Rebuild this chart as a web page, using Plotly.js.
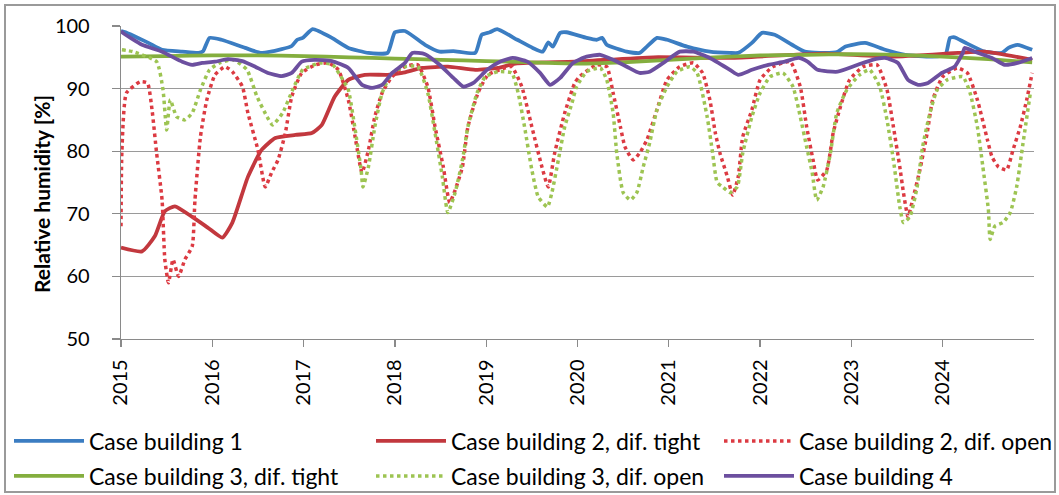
<!DOCTYPE html>
<html><head><meta charset="utf-8">
<script src="https://cdn.plot.ly/plotly-3.0.1.min.js"></script>
<style>html,body{margin:0;padding:0;background:#fff;} #chart{width:1059px;height:495px;}</style>
</head><body><div id="chart"></div>
<script>
const yearTicks = [2015, 2016, 2017, 2018, 2019, 2020, 2021, 2022, 2023, 2024];
const yearLabels = ['2015', '2016', '2017', '2018', '2019', '2020', '2021', '2022', '2023', '2024'];
const seriesNames = ['Case building 1', 'Case building 2, dif. tight', 'Case building 2, dif. open',
  'Case building 3, dif. tight', 'Case building 3, dif. open', 'Case building 4'];
const yTitle = 'Relative humidity [%]';

// [decimal year, relative humidity %]
const building1 = [[2015.00,99.2],[2015.05,99.0],[2015.30,97.3],[2015.45,96.2],[2015.67,95.9],[2015.85,95.7],[2015.90,96.0],[2015.97,98.1],[2016.10,97.8],[2016.36,96.5],[2016.54,95.7],[2016.76,96.3],[2016.87,96.8],[2016.93,97.8],[2016.99,98.1],[2017.10,99.5],[2017.31,98.1],[2017.49,96.5],[2017.71,95.7],[2017.92,95.7],[2018.00,99.0],[2018.11,99.2],[2018.33,97.0],[2018.49,95.9],[2018.64,96.0],[2018.88,95.7],[2018.95,98.6],[2019.04,99.0],[2019.12,99.5],[2019.34,97.8],[2019.51,96.5],[2019.62,95.9],[2019.68,97.4],[2019.73,96.7],[2019.81,98.9],[2019.88,99.0],[2020.10,98.1],[2020.21,97.8],[2020.27,98.1],[2020.32,97.0],[2020.54,95.9],[2020.68,95.7],[2020.76,96.7],[2020.87,98.1],[2020.98,97.8],[2021.20,96.7],[2021.45,95.9],[2021.67,95.7],[2021.76,95.7],[2021.91,97.3],[2022.02,98.9],[2022.16,98.6],[2022.35,97.0],[2022.49,95.9],[2022.71,95.7],[2022.85,95.9],[2022.93,96.7],[2023.15,97.3],[2023.37,96.2],[2023.59,95.4],[2023.88,95.1],[2024.03,95.4],[2024.08,98.1],[2024.13,98.2],[2024.24,97.4],[2024.46,95.9],[2024.65,95.7],[2024.72,96.5],[2024.82,97.0],[2024.98,96.2]];

const building2Tight = [[2015.00,64.6],[2015.23,64.0],[2015.37,66.4],[2015.48,70.4],[2015.59,71.2],[2015.78,69.5],[2015.95,67.8],[2016.11,66.2],[2016.22,68.6],[2016.39,75.9],[2016.54,80.2],[2016.69,82.1],[2016.91,82.6],[2017.09,82.9],[2017.20,84.2],[2017.34,88.7],[2017.49,91.4],[2017.67,92.2],[2017.92,92.2],[2018.08,92.5],[2018.30,93.3],[2018.58,93.5],[2018.88,93.0],[2019.13,93.3],[2019.32,94.0],[2019.97,94.3],[2020.83,95.0],[2021.67,94.9],[2022.35,95.4],[2022.71,95.6],[2023.44,95.1],[2024.17,95.7],[2024.46,95.9],[2024.98,94.6]];

const building2Open = [[2015.00,68.0],[2015.01,80.0],[2015.06,89.3],[2015.21,91.1],[2015.29,90.9],[2015.34,86.6],[2015.39,79.7],[2015.45,72.2],[2015.48,62.7],[2015.52,59.0],[2015.57,62.7],[2015.63,60.0],[2015.70,62.7],[2015.78,64.8],[2015.81,72.2],[2015.87,82.3],[2015.94,88.2],[2016.03,92.2],[2016.14,93.5],[2016.22,92.7],[2016.33,90.3],[2016.39,86.1],[2016.50,80.2],[2016.58,74.3],[2016.65,76.6],[2016.72,78.6],[2016.80,82.9],[2016.87,88.7],[2016.98,92.5],[2017.13,93.8],[2017.27,94.1],[2017.38,93.0],[2017.49,88.2],[2017.57,81.8],[2017.64,76.6],[2017.71,80.2],[2017.78,85.5],[2017.86,89.3],[2017.97,91.9],[2018.11,93.5],[2018.25,93.8],[2018.36,90.3],[2018.44,83.9],[2018.53,77.5],[2018.60,71.8],[2018.66,73.8],[2018.74,77.5],[2018.80,83.9],[2018.91,89.3],[2019.02,92.2],[2019.21,93.3],[2019.28,93.5],[2019.39,90.3],[2019.50,83.9],[2019.61,77.5],[2019.68,74.3],[2019.75,79.7],[2019.86,86.1],[2019.97,90.9],[2020.02,91.9],[2020.21,93.8],[2020.32,93.5],[2020.39,89.3],[2020.47,83.9],[2020.52,80.7],[2020.61,78.6],[2020.68,79.7],[2020.76,81.8],[2020.87,86.6],[2020.98,91.4],[2021.12,93.5],[2021.27,94.1],[2021.37,92.5],[2021.45,88.2],[2021.51,82.9],[2021.56,79.7],[2021.64,76.0],[2021.70,73.0],[2021.76,75.9],[2021.81,82.3],[2021.91,86.6],[2022.00,91.4],[2022.14,93.5],[2022.33,94.3],[2022.44,90.3],[2022.51,83.9],[2022.58,78.6],[2022.63,75.4],[2022.73,77.0],[2022.80,82.9],[2022.88,87.1],[2022.98,91.4],[2023.13,93.5],[2023.28,93.8],[2023.39,89.8],[2023.46,83.9],[2023.53,77.5],[2023.57,73.4],[2023.62,69.5],[2023.67,72.2],[2023.75,77.0],[2023.83,82.9],[2023.89,88.2],[2024.00,91.9],[2024.16,93.3],[2024.27,92.5],[2024.38,88.2],[2024.49,81.8],[2024.54,79.1],[2024.61,77.5],[2024.70,77.0],[2024.77,80.2],[2024.85,83.9],[2024.92,88.2],[2024.98,92.5]];

const building3Tight = [[2015.00,95.1],[2015.50,95.2],[2016.00,95.3],[2016.50,95.3],[2017.00,95.2],[2017.50,95.0],[2018.00,94.8],[2018.50,94.6],[2019.00,94.4],[2019.50,94.2],[2020.00,94.0],[2020.50,94.2],[2021.00,94.6],[2021.50,95.0],[2022.00,95.3],[2022.50,95.4],[2023.00,95.5],[2023.50,95.4],[2024.00,95.1],[2024.50,94.7],[2024.98,94.2]];

const building3Open = [[2015.01,96.2],[2015.13,95.9],[2015.39,94.3],[2015.46,89.8],[2015.50,83.4],[2015.54,88.2],[2015.61,85.5],[2015.70,85.0],[2015.78,86.1],[2015.87,89.8],[2015.97,93.0],[2016.08,94.1],[2016.23,94.6],[2016.38,93.0],[2016.49,88.7],[2016.60,85.5],[2016.66,84.2],[2016.77,86.1],[2016.88,89.8],[2016.99,93.0],[2017.18,94.1],[2017.32,93.8],[2017.43,91.4],[2017.49,89.8],[2017.56,83.9],[2017.63,77.0],[2017.65,74.3],[2017.71,77.5],[2017.78,83.9],[2017.86,89.3],[2017.97,92.5],[2018.11,93.5],[2018.25,93.5],[2018.36,89.3],[2018.44,82.9],[2018.52,75.9],[2018.58,70.2],[2018.66,73.4],[2018.74,78.6],[2018.80,83.9],[2018.90,89.3],[2018.99,91.9],[2019.13,92.7],[2019.28,92.5],[2019.35,89.3],[2019.42,83.9],[2019.50,77.0],[2019.57,72.7],[2019.67,71.1],[2019.72,73.4],[2019.79,78.6],[2019.86,83.9],[2019.94,87.7],[2019.99,90.3],[2020.10,92.7],[2020.25,93.3],[2020.32,91.4],[2020.39,86.1],[2020.43,79.7],[2020.50,73.4],[2020.58,72.2],[2020.65,73.4],[2020.72,77.5],[2020.79,81.3],[2020.87,86.6],[2020.98,90.3],[2021.09,92.7],[2021.23,93.5],[2021.31,92.5],[2021.42,85.5],[2021.48,79.7],[2021.53,75.0],[2021.59,74.3],[2021.67,73.4],[2021.75,74.3],[2021.81,79.7],[2021.91,85.5],[2022.00,89.3],[2022.11,91.9],[2022.25,92.5],[2022.36,90.3],[2022.44,85.5],[2022.51,80.7],[2022.57,76.6],[2022.62,72.2],[2022.69,74.3],[2022.77,79.7],[2022.84,86.1],[2022.95,89.8],[2023.09,92.2],[2023.20,93.0],[2023.31,90.3],[2023.39,85.0],[2023.46,78.6],[2023.53,71.1],[2023.57,68.6],[2023.64,69.5],[2023.72,74.3],[2023.78,80.7],[2023.86,86.1],[2023.94,89.8],[2024.05,91.4],[2024.22,91.9],[2024.30,89.3],[2024.38,83.9],[2024.44,77.5],[2024.50,70.7],[2024.52,65.9],[2024.57,68.0],[2024.66,68.6],[2024.74,70.2],[2024.81,74.3],[2024.88,81.3],[2024.96,89.3]];

const building4 = [[2015.00,99.2],[2015.02,98.9],[2015.23,97.0],[2015.45,95.9],[2015.67,94.3],[2015.78,93.8],[2015.89,94.1],[2016.03,94.3],[2016.17,94.7],[2016.33,94.4],[2016.47,93.5],[2016.61,92.5],[2016.76,92.0],[2016.87,92.5],[2016.98,94.3],[2017.12,94.6],[2017.31,94.4],[2017.49,93.3],[2017.64,90.6],[2017.75,90.1],[2017.86,90.6],[2017.97,92.5],[2018.11,94.1],[2018.19,95.7],[2018.33,95.5],[2018.49,93.8],[2018.64,91.7],[2018.75,90.3],[2018.86,90.9],[2019.01,93.0],[2019.15,94.3],[2019.29,94.9],[2019.45,94.3],[2019.59,92.5],[2019.70,90.6],[2019.81,91.7],[2019.95,94.1],[2020.10,95.1],[2020.25,95.4],[2020.39,94.6],[2020.54,93.5],[2020.68,92.5],[2020.79,92.7],[2020.94,94.1],[2021.12,95.9],[2021.27,95.9],[2021.45,94.9],[2021.67,93.0],[2021.76,92.2],[2021.91,93.0],[2022.09,93.8],[2022.27,94.3],[2022.42,94.9],[2022.52,94.3],[2022.63,93.0],[2022.85,92.7],[2023.07,93.8],[2023.23,94.6],[2023.37,94.9],[2023.51,94.1],[2023.62,91.4],[2023.73,90.6],[2023.84,90.9],[2023.99,92.5],[2024.13,93.5],[2024.22,95.7],[2024.24,96.5],[2024.35,95.9],[2024.54,94.9],[2024.68,93.8],[2024.82,94.1],[2024.98,94.9]];

const allSeries = [building1, building2Tight, building2Open, building3Tight, building3Open, building4];
const colors = ['#3b7dc2', '#c2383e', '#dc3a42', '#84ae3e', '#9dc452', '#6c4f9f'];
const dashes = ['solid', 'solid', '3.5px,3.5px', 'solid', '3.5px,3.5px', 'solid'];
const widths = [3.8, 3.8, 3.5, 3.8, 3.5, 3.8];
const legendIds = ['legend', 'legend2', 'legend3', 'legend4', 'legend5', 'legend6'];
// legend slot: [line start px, row center px]
const legendSlots = [[14, 441], [376, 441], [724, 441], [14, 476], [376, 476], [724, 476]];

const W = 1059, H = 495;
const traces = allSeries.map((s, i) => ({
  type: 'scatter', mode: 'lines', name: seriesNames[i],
  x: s.map(p => p[0]), y: s.map(p => p[1]),
  line: { color: colors[i], width: widths[i], dash: dashes[i], shape: 'spline', smoothing: 0.5 },
  legend: legendIds[i], hoverinfo: 'skip'
}));

const layout = {
  width: W, height: H,
  margin: { l: 121, r: 25, t: 26, b: 156, autoexpand: false },
  paper_bgcolor: '#ffffff', plot_bgcolor: '#ffffff',
  showlegend: true,
  xaxis: {
    range: [2015, 2025], tickmode: 'array', tickvals: yearTicks, ticktext: yearLabels,
    tickangle: -90, ticks: 'outside', ticklen: 7, tickcolor: '#8a8a8a', tickwidth: 1.3,
    showline: true, linecolor: '#8a8a8a', linewidth: 1.3, showgrid: false, zeroline: false,
    tickfont: { family: 'Lato, sans-serif', size: 20, color: '#000' }, ticklabelstandoff: 4,
    fixedrange: true
  },
  yaxis: {
    range: [50, 100], tick0: 50, dtick: 10, ticks: 'outside', ticklen: 8, tickcolor: '#8a8a8a', tickwidth: 1.3,
    showline: true, linecolor: '#8a8a8a', linewidth: 1.3, showgrid: true, gridcolor: '#9a9a9a', gridwidth: 1.3,
    zeroline: false, tickfont: { family: 'Lato, sans-serif', size: 20, color: '#000' }, ticklabelstandoff: 18,
    fixedrange: true
  },
  annotations: [{
    text: yTitle, textangle: -90, xref: 'paper', yref: 'paper',
    x: (41 - 121) / 913, y: (339 - 194) / 313, xanchor: 'center', yanchor: 'middle', showarrow: false,
    font: { family: 'Lato, sans-serif', size: 21, weight: 'bold', color: '#000' }
  }],
  shapes: [{
    type: 'rect', xref: 'paper', yref: 'paper',
    x0: (5 - 121) / 913, x1: (1055 - 121) / 913, y0: (339 - 492) / 313, y1: (339 - 5) / 313,
    line: { color: '#9a9a9a', width: 2 }, fillcolor: 'rgba(0,0,0,0)', layer: 'below'
  }]
};
legendIds.forEach((id, i) => {
  layout[id] = {
    xref: 'container', yref: 'container',
    x: (legendSlots[i][0] - 5) / W, y: 1 - legendSlots[i][1] / H,
    xanchor: 'left', yanchor: 'middle', orientation: 'v',
    itemwidth: 70, bgcolor: 'rgba(0,0,0,0)', borderwidth: 0,
    font: { family: 'Lato, sans-serif', size: 23, color: '#000' }
  };
});

Plotly.newPlot('chart', traces, layout, { displayModeBar: false, staticPlot: true });
</script>
</body></html>
